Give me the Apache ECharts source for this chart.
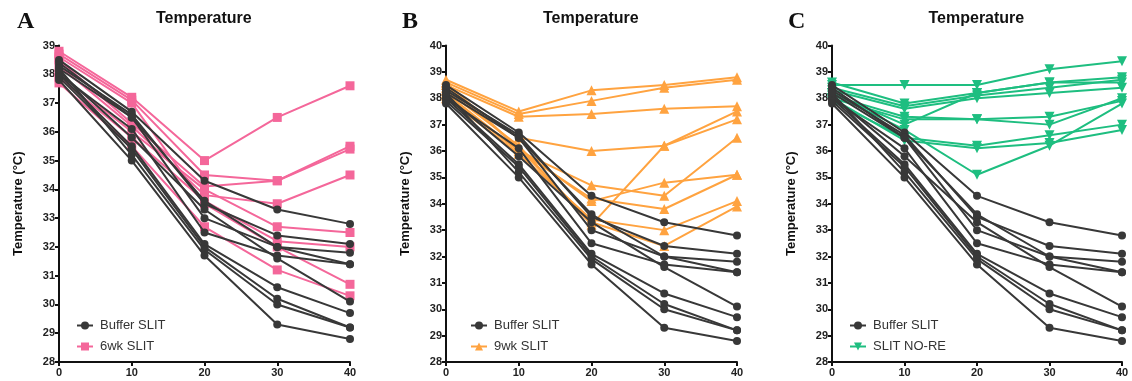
<!DOCTYPE html>
<html><head><meta charset="utf-8">
<script src="https://cdn.jsdelivr.net/npm/echarts@6/dist/echarts.min.js"></script>
<style>html,body{margin:0;padding:0;background:#fff}#c{width:1132px;height:381px}</style>
</head><body><div id="c"></div>
<script>
// Time points (x axis)
const timePoints = [0, 10, 20, 30, 40];
// Buffer SLIT (same animals shown in every panel)
const bufferSLIT = [
  [38.5, 36.7, 34.3, 33.3, 32.8],
  [38.3, 36.6, 33.5, 32.4, 32.1],
  [38.2, 36.5, 33.0, 32.0, 31.8],
  [38.0, 36.1, 32.5, 31.7, 31.4],
  [38.4, 36.5, 33.6, 32.0, 31.4],
  [38.1, 35.8, 33.3, 31.6, 30.1],
  [38.0, 35.5, 32.1, 30.6, 29.7],
  [37.9, 35.4, 32.0, 30.2, 29.2],
  [38.2, 35.2, 31.9, 30.0, 29.2],
  [37.8, 35.0, 31.7, 29.3, 28.8]
];
// 6wk SLIT (panel A)
const slit6wk = [
  [38.8, 37.2, 35.0, 36.5, 37.6],
  [38.7, 37.1, 34.5, 34.3, 35.5],
  [38.5, 36.3, 34.1, 34.3, 35.4],
  [38.3, 36.2, 33.8, 33.5, 34.5],
  [38.0, 36.0, 34.0, 32.7, 32.5],
  [37.9, 35.8, 33.6, 32.2, 32.0],
  [37.7, 35.5, 32.7, 31.2, 30.3],
  [38.6, 37.0, 33.5, 32.0, 30.7]
];
// 9wk SLIT (panel B)
const slit9wk = [
  [38.7, 37.5, 38.3, 38.5, 38.8],
  [38.6, 37.4, 37.9, 38.4, 38.7],
  [38.5, 37.3, 37.4, 37.6, 37.7],
  [38.4, 36.5, 36.0, 36.2, 37.2],
  [38.3, 36.2, 33.2, 36.2, 37.5],
  [38.2, 36.0, 34.7, 34.3, 36.5],
  [38.5, 36.1, 34.1, 34.8, 35.1],
  [38.1, 36.0, 34.2, 33.8, 35.1],
  [38.0, 35.9, 33.4, 33.0, 34.1],
  [38.6, 36.1, 33.3, 32.4, 33.9]
];
// SLIT NO-RE (panel C)
const slitNoRE = [
  [38.5, 38.5, 38.5, 39.1, 39.4],
  [38.6, 37.8, 38.2, 38.6, 38.8],
  [38.4, 37.7, 38.1, 38.4, 38.7],
  [38.3, 37.6, 38.0, 38.2, 38.4],
  [38.2, 37.0, 38.2, 38.6, 38.6],
  [38.1, 37.3, 37.2, 37.3, 37.9],
  [38.0, 37.2, 37.2, 37.0, 38.0],
  [37.9, 36.5, 36.2, 36.6, 37.0],
  [38.0, 36.4, 36.1, 36.3, 36.8],
  [38.2, 36.8, 35.1, 36.2, 37.8]
];
const panelLetters = ['A', 'B', 'C'];
const panelTitle = 'Temperature';
const yAxisName = 'Temperature (°C)';
const groupNames = ['6wk SLIT', '9wk SLIT', 'SLIT NO-RE'];
const bufferName = 'Buffer SLIT';

const panels = [
  {group: slit6wk, name: groupNames[0], color: '#F4679A', symbol: 'rect', size: 9, ymax: 39,
   left: 59, right: 350, letterX: 17, legendX: 76},
  {group: slit9wk, name: groupNames[1], color: '#FFA340', symbol: 'triangle', size: 10, ymax: 40,
   left: 446, right: 737, letterX: 402, legendX: 470},
  {group: slitNoRE, name: groupNames[2], color: '#1EBE80', symbol: 'path://M0,0 L10,0 L5,9 Z', size: 10, ymax: 40,
   left: 832, right: 1122, letterX: 788, legendX: 849}
];
const dark = '#383838';

const option = {
  animation: false,
  backgroundColor: '#fff',
  title: [], grid: [], xAxis: [], yAxis: [], legend: [], series: [],
  graphic: []
};
const tl = {fontFamily: 'Liberation Sans, Arial', fontWeight: 'bold', fontSize: 11, color: '#222'};

panels.forEach((p, i) => {
  option.grid.push({left: p.left, width: p.right - p.left, top: 45.5, height: 316.5});
  option.title.push({
    text: panelTitle, left: (p.left + p.right) / 2 - 48.5, top: 11, padding: 0,
    textStyle: {fontFamily: 'Liberation Sans, Arial', fontWeight: 'bold', fontSize: 16, color: '#111'}
  });
  option.graphic.push({type: 'text', left: p.letterX, top: 10,
    style: {text: panelLetters[i], font: 'bold 24px "Liberation Serif", "Times New Roman", serif', fill: '#111'}});
  option.xAxis.push({
    type: 'value', gridIndex: i, min: 0, max: 40, interval: 10,
    axisLine: {show: true, onZero: false, lineStyle: {color: '#111', width: 2}},
    axisTick: {show: true, length: 4, lineStyle: {color: '#111', width: 2}},
    axisLabel: Object.assign({margin: 5}, tl),
    splitLine: {show: false}
  });
  option.yAxis.push({
    type: 'value', gridIndex: i, min: 28, max: p.ymax, interval: 1,
    name: yAxisName, nameLocation: 'middle', nameGap: 34, nameRotate: 90,
    nameTextStyle: {fontFamily: 'Liberation Sans, Arial', fontWeight: 'bold', fontSize: 13, color: '#111'},
    axisLine: {show: true, onZero: false, lineStyle: {color: '#111', width: 2}},
    axisTick: {show: true, length: 4, lineStyle: {color: '#111', width: 2}},
    axisLabel: Object.assign({margin: 4}, tl),
    splitLine: {show: false}
  });
  option.legend.push({
    data: [bufferName, p.name], orient: 'vertical', left: p.legendX, top: 318, padding: 0,
    itemWidth: 16, itemHeight: 10, itemGap: 6,
    textStyle: {fontFamily: 'Liberation Sans, Arial', fontSize: 13, color: '#333', padding: [0, 0, 0, 2], lineHeight: 15},
    selectedMode: false
  });
  p.group.forEach(vals => {
    option.series.push({
      type: 'line', name: p.name, xAxisIndex: i, yAxisIndex: i,
      data: timePoints.map((t, k) => [t, vals[k]]),
      symbol: p.symbol, symbolSize: p.size, showAllSymbol: true,
      lineStyle: {color: p.color, width: 2}, itemStyle: {color: p.color},
      z: 2
    });
  });
  bufferSLIT.forEach(vals => {
    option.series.push({
      type: 'line', name: bufferName, xAxisIndex: i, yAxisIndex: i,
      data: timePoints.map((t, k) => [t, vals[k]]),
      symbol: 'circle', symbolSize: 8, showAllSymbol: true,
      lineStyle: {color: dark, width: 2}, itemStyle: {color: dark},
      z: 3
    });
  });
});

const chart = echarts.init(document.getElementById('c'), null, {renderer: 'canvas'});
chart.setOption(option);
</script>
</body></html>
